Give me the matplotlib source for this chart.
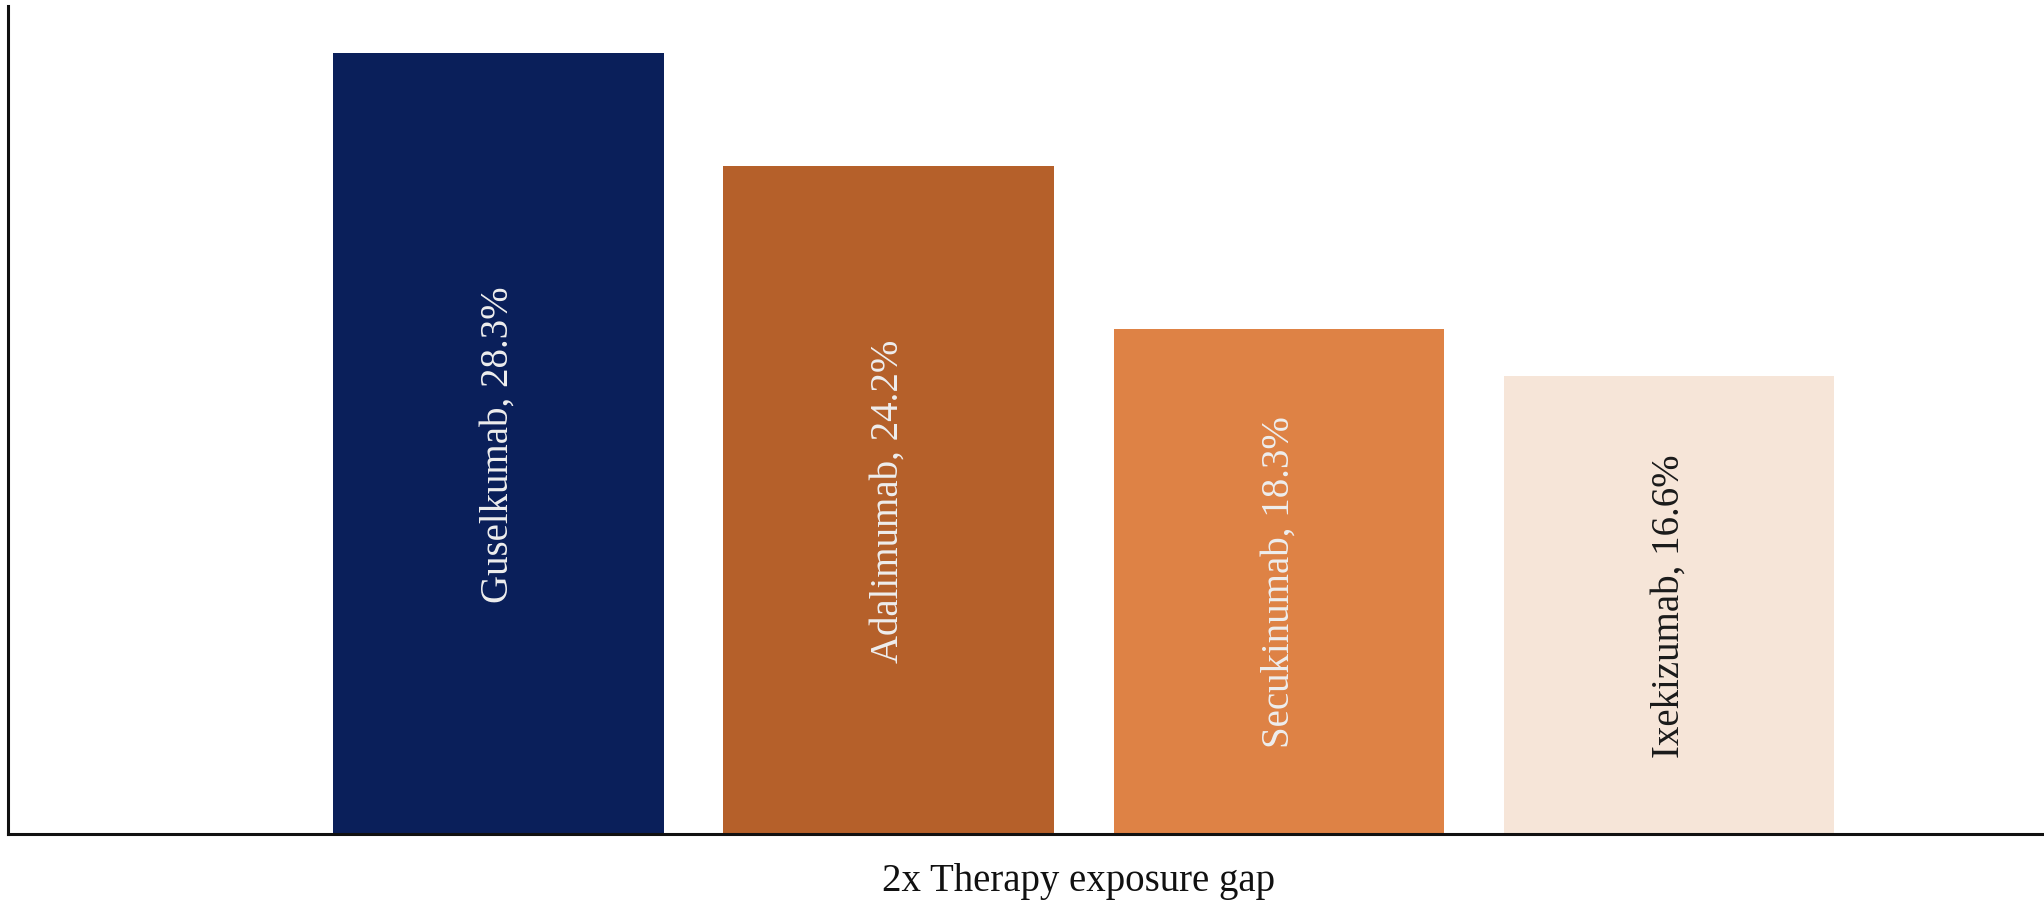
import matplotlib
matplotlib.use("Agg")
import matplotlib.pyplot as plt

# share of patients per drug
drugs = ["Guselkumab", "Adalimumab", "Secukinumab", "Ixekizumab"]
shares = [28.3, 24.2, 18.3, 16.6]
bar_colors = ["#0a1f5a", "#b5602a", "#de8245", "#f6e5d8"]
text_colors = ["#eeeeee", "#eeeeee", "#eeeeee", "#1a1a1a"]

plt.rcParams["font.family"] = ["Liberation Serif", "DejaVu Serif"]

fig = plt.figure(figsize=(20.44, 9.04), dpi=100)
ax = fig.add_axes([0.0039, 0.0763, 1.0476, 0.916])

x = list(range(len(drugs)))
ax.bar(x, shares, width=0.847, color=bar_colors, zorder=2)

# vertical label in the middle of each bar
for xi, name, val, tc in zip(x, drugs, shares, text_colors):
    ax.text(xi, val / 2, f"{name}, {val}%", rotation=90, ha="center",
            va="center", fontsize=28, color=tc)

ax.set_xlim(-1.256, 4.23)
ax.set_ylim(0, 30)
ax.set_xticks([])
ax.set_yticks([])
for side in ["top", "right"]:
    ax.spines[side].set_visible(False)
for side in ["left", "bottom"]:
    ax.spines[side].set_linewidth(2.2)
    ax.spines[side].set_color("#111111")

ax.set_xlabel("2x Therapy exposure gap", fontsize=28, color="#111111", labelpad=20)

fig.savefig("out.png", dpi=100)
